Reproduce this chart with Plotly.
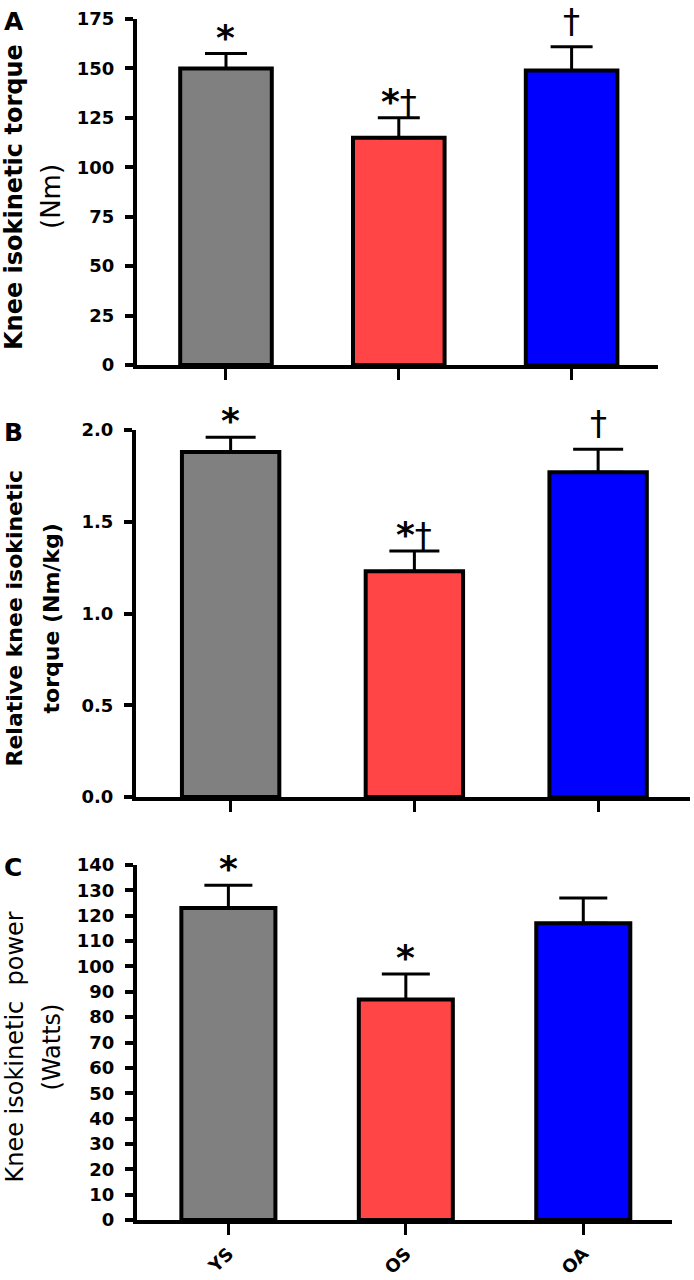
import plotly.graph_objects as go

groups = ["YS", "OS", "OA"]
colors = ["#808080", "#FF4545", "#0000FF"]

torque_mean = [150, 115, 149]
torque_sem = [7.5, 10, 12]
torque_marks = ["*", "*†", "†"]

rel_torque_mean = [1.88, 1.23, 1.77]
rel_torque_sem = [0.08, 0.11, 0.125]
rel_marks = ["*", "*†", "†"]

power_mean = [123, 87, 117]
power_sem = [9, 10, 10]
power_marks = ["*", "*", ""]

FONT = "DejaVu Sans, sans-serif"
W, H = 694, 1280

panels = [
    dict(mean=torque_mean, sem=torque_sem, marks=torque_marks, rng=[0, 175], dtick=25, fmt="d",
         xpx=(137, 658), ypx=(19, 365), cap=21, letter="A",
         t1="<b>Knee isokinetic torque</b>", t2="(Nm)", s1=24, s2=26, showlab=False),
    dict(mean=rel_torque_mean, sem=rel_torque_sem, marks=rel_marks, rng=[0, 2.0], dtick=0.5, fmt=".1f",
         xpx=(136, 690), ypx=(430, 797), cap=25, letter="B",
         t1="<b>Relative knee isokinetic</b>", t2="<b>torque (Nm/kg)</b>", s1=22, s2=22, showlab=False),
    dict(mean=power_mean, sem=power_sem, marks=power_marks, rng=[0, 140], dtick=10, fmt="d",
         xpx=(137, 672), ypx=(865, 1220), cap=24, letter="C",
         t1="Knee isokinetic  power", t2="(Watts)", s1=24, s2=24, showlab=True),
]


def mark_html(m):
    out = ""
    for ch in m:
        if ch == "*":
            out += "<span style='font-size:36px'><b>*</b></span>"
        else:
            out += "<span style='font-size:34px'>" + ch + "</span>"
    return out


fig = go.Figure()
layout = dict(width=W, height=H, margin=dict(l=0, r=0, t=0, b=0, autoexpand=False),
              paper_bgcolor="white", plot_bgcolor="white", showlegend=False,
              font=dict(family=FONT, color="black"))
annotations = []

for i, p in enumerate(panels):
    sfx = "" if i == 0 else str(i + 1)
    xa, ya = "x" + sfx, "y" + sfx
    fig.add_trace(go.Bar(
        x=[0, 1, 2], y=p["mean"], width=0.53,
        marker=dict(color=colors, line=dict(color="black", width=4)),
        error_y=dict(type="data", array=p["sem"], arrayminus=[0, 0, 0], symmetric=False,
                     color="black", thickness=3, width=p["cap"]),
        xaxis=xa, yaxis=ya, cliponaxis=False, hoverinfo="skip"))
    x0, x1 = p["xpx"]
    y0, y1 = p["ypx"]
    layout["xaxis" + sfx] = dict(
        domain=[x0 / W, x1 / W], range=[-0.515, 2.5], anchor=ya,
        tickvals=[0, 1, 2], ticktext=groups, showticklabels=p["showlab"],
        tickangle=-45, tickfont=dict(size=18, family=FONT, color="black", weight="bold"),
        ticks="outside", ticklen=11, tickwidth=3, tickcolor="black", ticklabelstandoff=1,
        showline=True, linewidth=4, linecolor="black", showgrid=False, zeroline=False)
    layout["yaxis" + sfx] = dict(
        domain=[1 - y1 / H, 1 - y0 / H], range=p["rng"], anchor=xa,
        dtick=p["dtick"], tick0=0, tickformat=p["fmt"],
        tickfont=dict(size=18, family=FONT, color="black", weight="bold"),
        ticks="outside", ticklen=8, tickwidth=4, tickcolor="black", ticklabelstandoff=7,
        showline=True, linewidth=4, linecolor="black", showgrid=False, zeroline=False)
    top = [m + s for m, s in zip(p["mean"], p["sem"])]
    for j, mk in enumerate(p["marks"]):
        if mk:
            shift = 4 if mk == "†" else -6
            annotations.append(dict(x=j, y=top[j], xref=xa, yref=ya, text=mark_html(mk),
                                    showarrow=False, xanchor="center", yanchor="bottom", yshift=shift,
                                    font=dict(size=30, family=FONT, color="black")))
    annotations.append(dict(x=2 / W, y=1 - (y0 - 14) / H, xref="paper", yref="paper",
                            text="<b>" + p["letter"] + "</b>", showarrow=False,
                            xanchor="left", yanchor="top",
                            font=dict(size=25, family=FONT, color="black")))
    yc = 1 - ((y0 + y1) / 2 + 5) / H
    annotations.append(dict(x=14 / W, y=yc, xref="paper", yref="paper", text=p["t1"],
                            showarrow=False, textangle=-90, xanchor="center", yanchor="middle",
                            font=dict(size=p["s1"], family=FONT, color="black")))
    annotations.append(dict(x=51 / W, y=yc, xref="paper", yref="paper", text=p["t2"],
                            showarrow=False, textangle=-90, xanchor="center", yanchor="middle",
                            font=dict(size=p["s2"], family=FONT, color="black")))

layout["annotations"] = annotations
fig.update_layout(**layout)
fig.write_html("out.html", config={"displayModeBar": False},
               post_script="document.body.style.margin='0';document.body.style.padding='0';")
